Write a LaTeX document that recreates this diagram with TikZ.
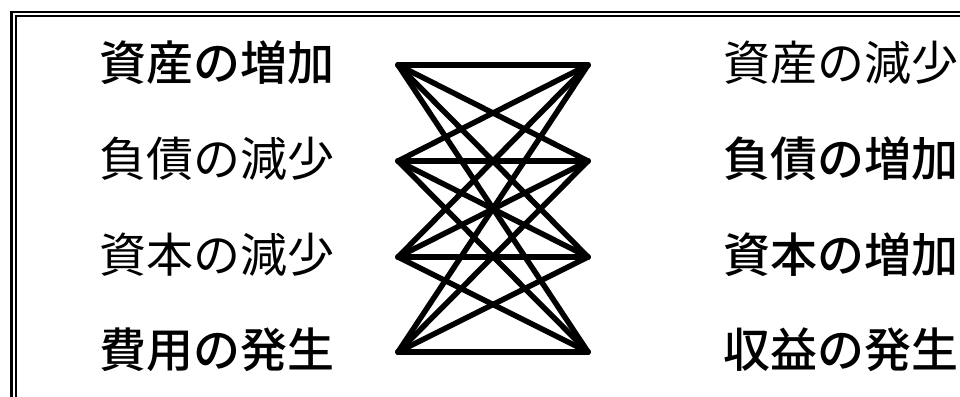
\documentclass[tikz,border=0pt]{standalone}
\usepackage{fontspec}
\setmainfont{Noto Sans CJK JP}
\newfontfamily\jpmed{Noto Sans CJK JP Medium}
\begin{document}
\begin{tikzpicture}[x=1pt,y=-1pt,
  lbl/.style={anchor=west,inner sep=0pt,font=\fontsize{47}{50}\selectfont},
  blbl/.style={lbl,font=\fontsize{47}{50}\selectfont\jpmed},
  link/.style={line width=5.5pt,line cap=round,line join=round}]
\useasboundingbox (0,0) rectangle (960,396);
\clip (0,0) rectangle (960,396);
\fill[white] (0,0) rectangle (960,396);
% double frame
\draw[line width=2.6pt] (11.5,12) rectangle (1000,1000);
\draw[line width=2pt] (16,16) rectangle (1000,1000);
% labels
\node[blbl] (a1) at (99,63) {資産の増加};
\node[lbl]  (a2) at (99,159) {負債の減少};
\node[lbl]  (a3) at (99,255) {資本の減少};
\node[blbl] (a4) at (99,350) {費用の発生};
\node[lbl]  (b1) at (723,63) {資産の減少};
\node[blbl] (b2) at (723,159) {負債の増加};
\node[blbl] (b3) at (723,255) {資本の増加};
\node[blbl] (b4) at (723,350) {収益の発生};
% endpoints
\coordinate (L1) at (398,65);
\coordinate (L2) at (398,161);
\coordinate (L3) at (398,257);
\coordinate (L4) at (398,352);
\coordinate (R1) at (588,65);
\coordinate (R2) at (588,161);
\coordinate (R3) at (588,257);
\coordinate (R4) at (588,352);
\foreach \i in {1,2,3,4}{
  \foreach \j in {1,2,3,4}{
    \draw[link] (L\i) -- (R\j);
  }
}
\end{tikzpicture}
\end{document}
